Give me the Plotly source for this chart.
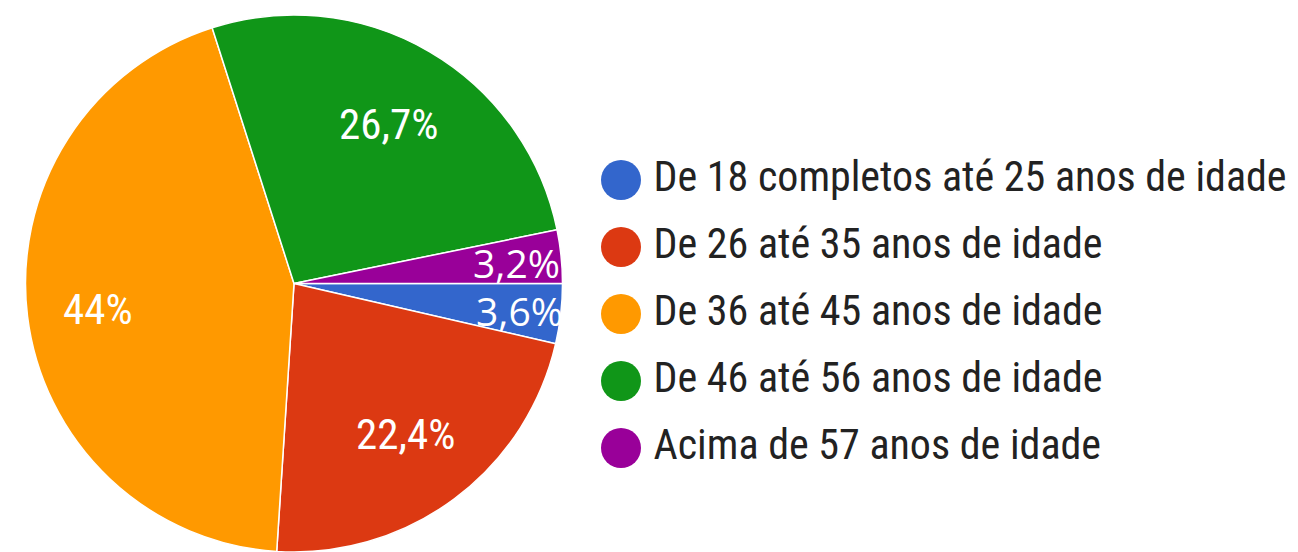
import math
import plotly.graph_objects as go

# ---- data ----
categories = [
    "De 18 completos até 25 anos de idade",
    "De 26 até 35 anos de idade",
    "De 36 até 45 anos de idade",
    "De 46 até 56 anos de idade",
    "Acima de 57 anos de idade",
]
values = [3.6, 22.4, 44.0, 26.7, 3.2]
value_labels = ["3,6%", "22,4%", "44%", "26,7%", "3,2%"]
colors = ["#3366CC", "#DC3912", "#FF9900", "#109618", "#990099"]

# ---- styling / layout constants ----
W, H = 1298, 552
CX, CY, R = 294, 285, 270
label_radius = [0.84, 0.69, 0.73, 0.69, 0.83]
narrow = "Liberation Sans Narrow, Arial Narrow, Roboto Condensed, Liberation Sans, Arial, sans-serif"
small_font = "Open Sans, Segoe UI, sans-serif"
label_fonts = [
    dict(family=small_font, size=39, color="white"),
    dict(family=narrow, size=43, color="white"),
    dict(family=narrow, size=43, color="white"),
    dict(family=narrow, size=43, color="white"),
    dict(family=small_font, size=39, color="white"),
]

fig = go.Figure()

fig.add_trace(go.Pie(
    labels=categories,
    values=values,
    sort=False,
    direction="clockwise",
    rotation=90,
    marker=dict(colors=colors, line=dict(color="white", width=1.5)),
    textinfo="none",
    hoverinfo="label+percent",
    showlegend=False,
    domain=dict(x=[(CX - R) / W, (CX + R) / W], y=[max(0, 1 - (CY + R) / H), 1 - (CY - R) / H]),
))

# slice labels positioned at each slice's mid-angle (computed from the values)
total = sum(values)
cum = 0.0
annotations = []
for v, txt, rf, fnt in zip(values, value_labels, label_radius, label_fonts):
    mid = (cum + v / 2) / total
    cum += v
    theta = 2 * math.pi * mid  # clockwise from 3 o'clock
    px = CX + rf * R * math.cos(theta)
    py = CY + rf * R * math.sin(theta)
    annotations.append(dict(
        x=px / W, y=1 - py / H, xref="paper", yref="paper",
        text=txt, showarrow=False, font=fnt,
        xanchor="center", yanchor="middle",
    ))

# custom legend with large circle markers
idx = list(range(len(categories)))
fig.add_trace(go.Scatter(
    x=[0] * len(categories), y=idx, mode="markers",
    marker=dict(size=40, color=colors, symbol="circle", line=dict(width=0)),
    hoverinfo="skip", showlegend=False, cliponaxis=False,
))
fig.add_trace(go.Scatter(
    x=[0.048] * len(categories), y=idx, mode="text",
    text=categories, textposition="middle right",
    textfont=dict(family=narrow, size=42, color="#222222"),
    hoverinfo="skip", showlegend=False, cliponaxis=False,
))

row0, step = 180, 67
fig.update_layout(
    width=W, height=H,
    margin=dict(l=0, r=0, t=0, b=0),
    paper_bgcolor="white", plot_bgcolor="rgba(0,0,0,0)",
    annotations=annotations,
    xaxis=dict(domain=[621 / W, 1], range=[0, 1], visible=False, fixedrange=True),
    yaxis=dict(domain=[0, 1], range=[(H - row0) / step, -row0 / step], visible=False, fixedrange=True),
    showlegend=False,
)

fig.write_html(
    "out.html",
    config={"displayModeBar": False},
    post_script="document.body.style.margin='0';document.body.style.overflow='hidden';",
)
